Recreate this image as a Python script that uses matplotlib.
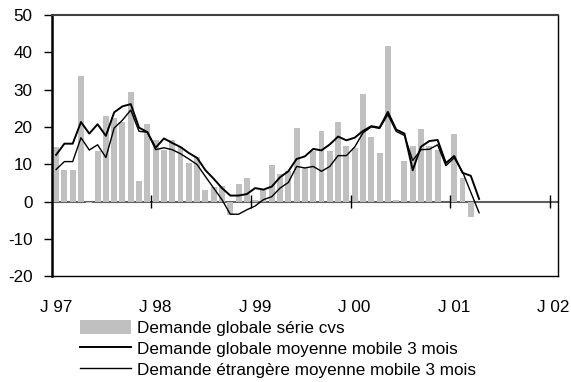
import numpy as np
import matplotlib
matplotlib.use("Agg")
import matplotlib.pyplot as plt

plt.rcParams['font.family'] = ['Liberation Sans', 'DejaVu Sans']

# monthly data, Jan 97 .. Apr 01
demande_cvs = [14.6, 8.5, 8.5, 33.7, -0.4, 13.5, 22.9, 22.3, 21.2, 29.4, 5.4, 20.8,
               16.6, 13.9, 16.6, 14.5, 10.2, 11.8, 3.2, 3.8, 4.1, -3.5, 4.8, 6.4,
               0.3, 3.2, 9.7, 7.5, 8.1, 19.6, 9.0, 13.5, 18.9, 13.5, 21.2, 15.0,
               14.4, 28.8, 17.3, 12.9, 41.8, 0.4, 10.8, 15.0, 19.3, 15.0, 13.9, 0.0,
               18.2, 6.4, -4.2]
globale_mm3 = [12.5, 15.5, 15.5, 21.3, 18.2, 20.7, 17.6, 23.9, 25.5, 26.1, 19.8, 18.6,
               14.4, 16.9, 15.7, 14.6, 13.0, 11.7, 8.4, 6.1, 3.6, 1.6, 1.6, 2.0,
               3.6, 3.2, 4.0, 6.5, 8.1, 11.4, 12.1, 14.1, 13.7, 15.3, 17.4, 16.4,
               17.1, 18.9, 20.2, 19.8, 24.0, 19.3, 18.2, 8.4, 14.7, 16.2, 16.5, 10.3,
               12.2, 7.7, 6.9, 0.7]
etrangere_mm3 = [8.6, 10.7, 10.7, 17.1, 13.8, 15.2, 11.8, 19.7, 21.8, 24.5, 18.8, 18.6,
                 13.9, 14.4, 13.9, 12.8, 11.4, 9.9, 6.7, 3.6, 0.5, -3.4, -3.4, -2.2,
                 -1.2, 0.5, 1.3, 3.6, 5.1, 9.4, 9.0, 9.4, 8.1, 9.4, 12.3, 12.3,
                 14.6, 18.4, 20.0, 19.6, 23.3, 18.8, 17.7, 11.0, 13.9, 14.0, 15.2, 9.6,
                 11.7, 8.0, 2.5, -3.0]
year_labels = ['J 97', 'J 98', 'J 99', 'J 00', 'J 01', 'J 02']
y_ticks = [-20, -10, 0, 10, 20, 30, 40, 50]

x_bar = np.arange(len(demande_cvs)) + 0.5
x_line = np.arange(len(globale_mm3)) + 0.5
year_pos = np.arange(len(year_labels)) * 12

fig = plt.figure(figsize=(5.71, 3.82), dpi=100)
ax = fig.add_axes([0.091, 0.277, 0.886, 0.684])

bars = ax.bar(x_bar, demande_cvs, width=0.72, color='#c0c0c0', zorder=2,
              label='Demande globale série cvs')
l1, = ax.plot(x_line, globale_mm3, color='black', lw=1.4, zorder=3,
              label='Demande globale moyenne mobile 3 mois')
l2, = ax.plot(x_line, etrangere_mm3, color='black', lw=1.0, zorder=3,
              label='Demande étrangère moyenne mobile 3 mois')

ax.axhline(0, color='#606060', lw=1.5, zorder=1)
ax.vlines(year_pos[1:], -1.8, 1.8, color='black', lw=1.0, zorder=4)

ax.set_xlim(0, 61)
ax.set_ylim(-20, 50)
ax.set_yticks(y_ticks)
ax.set_yticklabels([str(v) for v in y_ticks], fontsize=12.3)
ax.set_xticks(year_pos + 0.45)
ax.set_xticklabels(year_labels, fontsize=12.3)
ax.tick_params(axis='x', length=0, pad=17)
ax.tick_params(axis='y', length=6, width=1, pad=8, direction='out')

ax.spines['left'].set_linewidth(1.8)
ax.spines['top'].set_color('#404040')
ax.spines['top'].set_linewidth(1.5)
for s in ['right', 'bottom']:
    ax.spines[s].set_linewidth(1.0)

fig.legend(handles=[bars, l1, l2], loc='upper left', bbox_to_anchor=(0.14, 0.162),
           frameon=False, fontsize=12.3, handlelength=3.0, handleheight=0.85,
           handletextpad=0.35, labelspacing=0.3, borderpad=0, borderaxespad=0)

fig.savefig('out.png', dpi=100)
